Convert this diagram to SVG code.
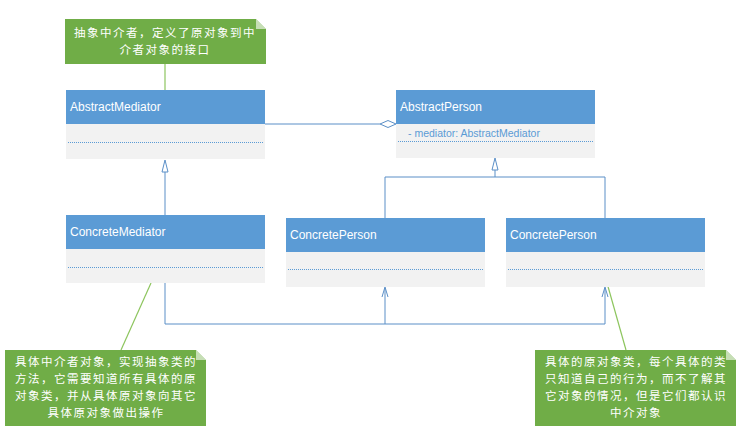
<svg xmlns="http://www.w3.org/2000/svg" width="742" height="435" viewBox="0 0 742 435">
<style>
.hd{fill:#5B9BD5}
.bd{fill:#F2F2F2}
.dash{stroke:#5B9BD5;stroke-width:1;stroke-dasharray:1,1;fill:none}
.t{font-family:"Liberation Sans",Arial,sans-serif;font-size:12px;fill:#fff}
.at{font-family:"Liberation Sans",Arial,sans-serif;font-size:10.5px;fill:#5B9BD5}
.note{fill:#70AD47}
.nt{font-family:"Noto Sans CJK SC","Noto Sans",sans-serif;font-size:11.5px;letter-spacing:1.5px;fill:#fff;text-anchor:middle}
.ln{stroke:#5B8FC7;stroke-width:1;fill:none}
.gl{stroke:#8DC55E;stroke-width:1.2;fill:none}
</style>
<rect width="742" height="435" fill="#fff"/>

<g id="connectors">
  <line class="gl" x1="165" y1="64" x2="165" y2="90"/>
  <line class="gl" x1="121" y1="350" x2="151" y2="283"/>
  <line class="gl" x1="626" y1="350" x2="607" y2="283"/>
  <line class="ln" x1="265" y1="124" x2="380" y2="124"/>
  <path d="M380,124 L388,120.5 L396,124 L388,127.5 Z" fill="#fff" stroke="#5B8FC7"/>
  <path d="M165,160 L162,172 L168,172 Z" fill="#fff" stroke="#5B8FC7"/>
  <line class="ln" x1="165" y1="172" x2="165" y2="215"/>
  <path d="M495,158 L492,170 L498,170 Z" fill="#fff" stroke="#5B8FC7"/>
  <polyline class="ln" points="495,170 495,177"/>
  <polyline class="ln" points="385,218 385,177 605,177 605,218"/>
  <polyline class="ln" points="165,283 165,324 605,324 605,288"/>
  <line class="ln" x1="385" y1="324" x2="385" y2="288"/>
  <polyline class="ln" points="382,297 385,287 388,297"/>
  <polyline class="ln" points="602,297 605,287 608,297"/>
</g>

<g id="note-abstract-mediator">
  <path class="note" d="M65,19 L256,19 L266,29 L266,64 L65,64 Z"/>
  <path d="M256,19 L266,29 L256,29 Z" fill="#fff" opacity="0.6"/>
  <text class="nt" x="165" y="37">抽象中介者，定义了原对象到中</text>
  <text class="nt" x="165" y="54">介者对象的接口</text>
</g>

<g id="AbstractMediator">
  <rect class="hd" x="66" y="90" width="199" height="34"/>
  <rect class="bd" x="66" y="124" width="199" height="35"/>
  <line class="dash" x1="68" y1="142.5" x2="263" y2="142.5"/>
  <text class="t" x="70" y="111">AbstractMediator</text>
</g>

<g id="AbstractPerson">
  <rect class="hd" x="396" y="90" width="199" height="34"/>
  <rect class="bd" x="396" y="124" width="199" height="34"/>
  <line class="dash" x1="398" y1="141.5" x2="593" y2="141.5"/>
  <text class="t" x="400" y="111">AbstractPerson</text>
  <text class="at" x="408" y="137">- mediator: AbstractMediator</text>
</g>

<g id="ConcreteMediator">
  <rect class="hd" x="66" y="215" width="199" height="34"/>
  <rect class="bd" x="66" y="249" width="199" height="34"/>
  <line class="dash" x1="68" y1="267.5" x2="263" y2="267.5"/>
  <text class="t" x="70" y="236">ConcreteMediator</text>
</g>

<g id="ConcretePerson1">
  <rect class="hd" x="286" y="218" width="199" height="34"/>
  <rect class="bd" x="286" y="252" width="199" height="35"/>
  <line class="dash" x1="288" y1="269.5" x2="483" y2="269.5"/>
  <text class="t" x="290" y="239">ConcretePerson</text>
</g>

<g id="ConcretePerson2">
  <rect class="hd" x="506" y="218" width="199" height="34"/>
  <rect class="bd" x="506" y="252" width="199" height="35"/>
  <line class="dash" x1="508" y1="269.5" x2="703" y2="269.5"/>
  <text class="t" x="510" y="239">ConcretePerson</text>
</g>

<g id="note-concrete-mediator">
  <path class="note" d="M5,350 L196,350 L206,360 L206,426 L5,426 Z"/>
  <path d="M196,350 L206,360 L196,360 Z" fill="#fff" opacity="0.6"/>
  <text class="nt" x="106" y="366">具体中介者对象，实现抽象类的</text>
  <text class="nt" x="106" y="383">方法，它需要知道所有具体的原</text>
  <text class="nt" x="106" y="400">对象类，并从具体原对象向其它</text>
  <text class="nt" x="106" y="417">具体原对象做出操作</text>
</g>

<g id="note-concrete-person">
  <path class="note" d="M535,350 L726,350 L736,360 L736,426 L535,426 Z"/>
  <path d="M726,350 L736,360 L726,360 Z" fill="#fff" opacity="0.6"/>
  <text class="nt" x="636" y="366">具体的原对象类，每个具体的类</text>
  <text class="nt" x="636" y="383">只知道自己的行为，而不了解其</text>
  <text class="nt" x="636" y="400">它对象的情况，但是它们都认识</text>
  <text class="nt" x="636" y="417">中介对象</text>
</g>
</svg>
